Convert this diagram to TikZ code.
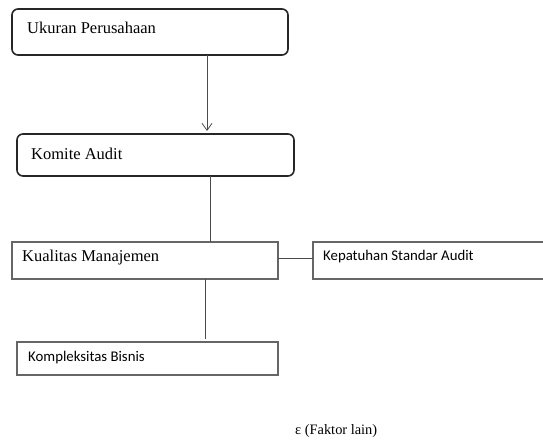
\documentclass[tikz,border=0pt]{standalone}
\usepackage{fontspec}
\setmainfont{Liberation Serif}
\newfontfamily\calib{Carlito}
\usetikzlibrary{arrows.meta}
\begin{document}
\begin{tikzpicture}[x=1pt,y=-1pt,
  rbox/.style={draw=black!85,line width=1.6pt,rounded corners=6pt},
  sbox/.style={draw=black!60,line width=1.1pt},
  conn/.style={draw=black!70,line width=0.8pt},
  serlab/.style={anchor=west,inner sep=0pt,font=\fontsize{16.5}{18}\selectfont},
  sanlab/.style={anchor=west,inner sep=0pt,font=\calib\fontsize{14.8}{16}\selectfont}]
\useasboundingbox (0,0) rectangle (543,439);
\draw[rbox] (12,9) rectangle (288,55);
\node[serlab] (t1) at (27,28) {Ukuran Perusahaan};
\draw[rbox] (17,134) rectangle (294,176);
\node[serlab] (t2) at (31,154) {Komite Audit};
\draw[sbox] (12,242) rectangle (278,279);
\node[serlab] (t3) at (22,258) {Kualitas Manajemen};
\draw[sbox] (313,242) rectangle (560,279);
\node[sanlab] (t4) at (323,257) {Kepatuhan Standar Audit};
\draw[sbox] (17,342) rectangle (278,375);
\node[sanlab] (t5) at (28,358) {Kompleksitas Bisnis};
\coordinate (a1) at (207,55);
\coordinate (a2) at (207,131);
\draw[conn,-{Straight Barb[length=7pt,width=10pt]}] (a1) -- (a2);
\coordinate (b1) at (210,176);
\coordinate (b2) at (210,242);
\draw[conn] (b1) -- (b2);
\coordinate (c1) at (278,258);
\coordinate (c2) at (313,258);
\draw[conn] (c1) -- (c2);
\coordinate (d1) at (205,279);
\coordinate (d2) at (205,339);
\draw[conn] (d1) -- (d2);
\node[serlab,font=\fontsize{14.4}{16}\selectfont] (eps) at (295,431) {ε (Faktor lain)};
\end{tikzpicture}
\end{document}
